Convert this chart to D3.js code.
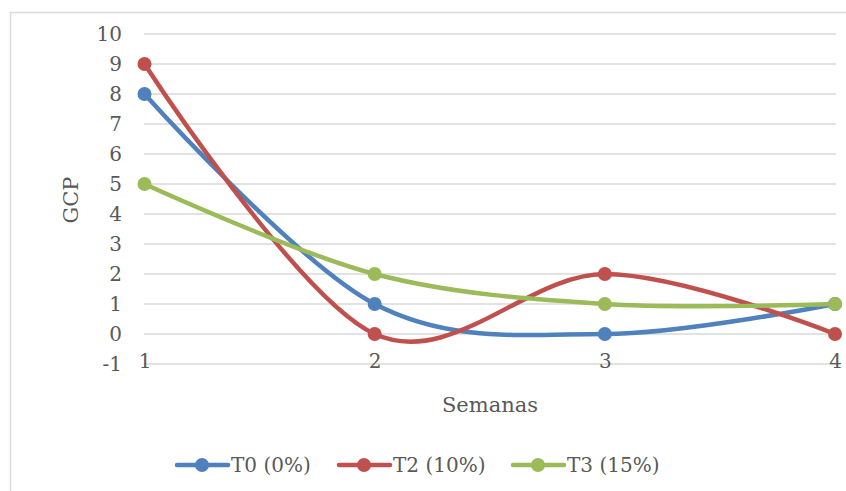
<!DOCTYPE html>
<html><head><meta charset="utf-8">
<script src="https://cdn.jsdelivr.net/npm/d3@7"></script>
<style>body{margin:0;background:#fff}svg{display:block}text{font-family:"DejaVu Serif",serif;fill:#595959}</style>
</head><body><svg id="c" width="846" height="491"></svg>
<script>
const weeks = [1, 2, 3, 4];
const seriesNames = ["T0 (0%)", "T2 (10%)", "T3 (15%)"];
const t0 = [8, 1, 0, 1];
const t2 = [9, 0, 2, 0];
const t3 = [5, 2, 1, 1];
const yTicks = [-1, 0, 1, 2, 3, 4, 5, 6, 7, 8, 9, 10];
const colors = ["#4f81bd", "#c0504d", "#9bbb59"];
const series = [t0, t2, t3];

const svg = d3.select("#c");
svg.append("rect").attr("x", 10.5).attr("y", 12.5).attr("width", 840).attr("height", 490)
  .attr("fill", "#fff").attr("stroke", "#d9d9d9").attr("stroke-width", 1.5);

const x = d3.scaleLinear().domain([1, 4]).range([144.5, 835]);
const y = d3.scaleLinear().domain([-1, 10]).range([364, 34]);

// gridlines
svg.append("g").selectAll("line").data(yTicks).join("line")
  .attr("x1", 144).attr("x2", 836)
  .attr("y1", d => y(d)).attr("y2", d => y(d))
  .attr("stroke", "#d9d9d9").attr("stroke-width", 1.3);

const fmt = d => String(d);

// y axis labels
const ya = svg.append("g").attr("transform", "translate(122,0)")
  .call(d3.axisLeft(y).tickValues(yTicks).tickSize(0).tickPadding(0).tickFormat(fmt));
ya.select(".domain").remove();
ya.selectAll("text").attr("font-size", 20).attr("font-family", "DejaVu Serif").attr("fill", "#595959");

// x axis labels
const xa = svg.append("g").attr("transform", `translate(0,${y(-1) - 10})`)
  .call(d3.axisBottom(x).tickValues(weeks).tickSize(0).tickPadding(0).tickFormat(fmt));
xa.select(".domain").remove();
xa.selectAll("text").attr("font-size", 20).attr("font-family", "DejaVu Serif").attr("fill", "#595959");

// titles
svg.append("text").attr("x", 490).attr("y", 412).attr("text-anchor", "middle")
  .attr("font-size", 21).text("Semanas");
svg.append("text").attr("transform", "translate(78,200) rotate(-90)").attr("text-anchor", "middle")
  .attr("font-size", 21).text("GCP");

// lines
const line = d3.line().x((d, i) => x(weeks[i])).y(d => y(d)).curve(d3.curveCardinal.tension(0));
series.forEach((s, k) => {
  svg.append("path").datum(s).attr("d", line).attr("fill", "none")
    .attr("stroke", colors[k]).attr("stroke-width", 4.5).attr("stroke-linecap", "round");
});
series.forEach((s, k) => {
  svg.append("g").selectAll("circle").data(s).join("circle")
    .attr("cx", (d, i) => x(weeks[i])).attr("cy", d => y(d)).attr("r", 7)
    .attr("fill", colors[k]);
});

// legend
const legX = [177, 339, 513];
seriesNames.forEach((n, k) => {
  const g = svg.append("g").attr("transform", `translate(${legX[k]},465)`);
  g.append("line").attr("x1", 0).attr("x2", 51).attr("stroke", colors[k]).attr("stroke-width", 4.5).attr("stroke-linecap", "round");
  g.append("circle").attr("cx", 25).attr("r", 7).attr("fill", colors[k]);
  g.append("text").attr("x", 54).attr("y", 7).attr("font-size", 20).text(n);
});
</script></body></html>
